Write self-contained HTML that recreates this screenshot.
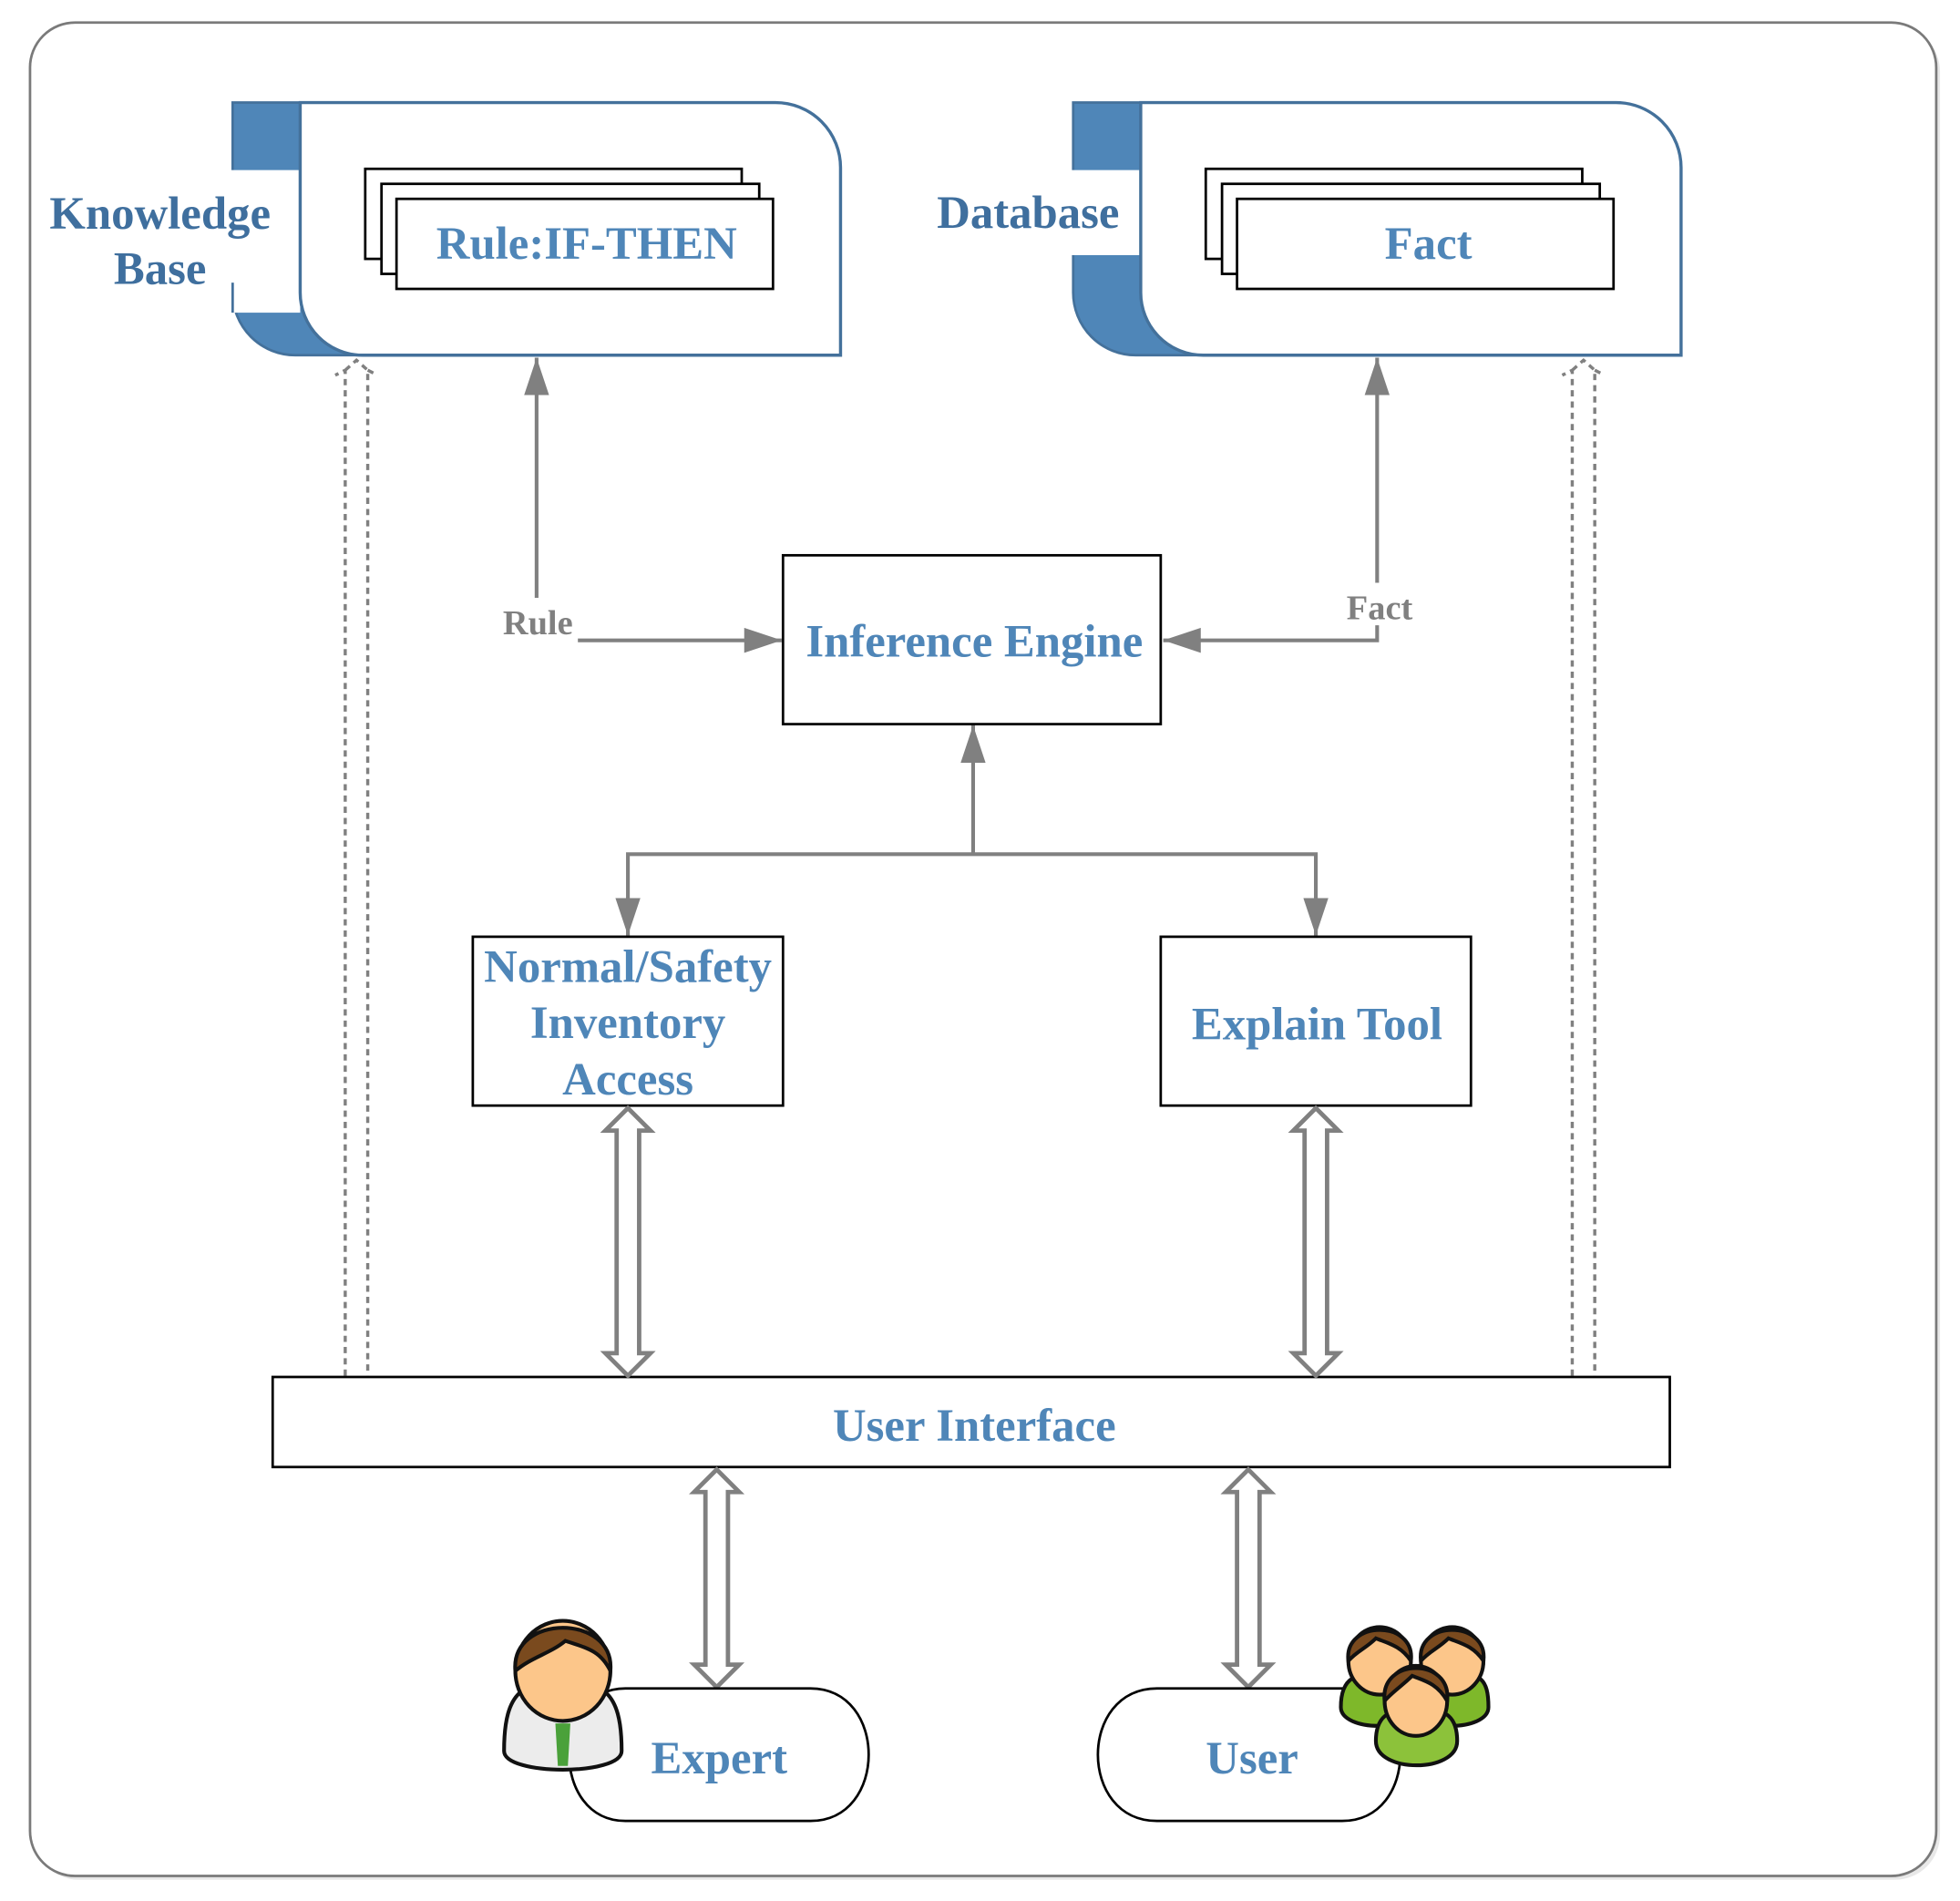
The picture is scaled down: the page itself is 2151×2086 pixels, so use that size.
<!DOCTYPE html>
<html><head><meta charset="utf-8"><style>html,body{margin:0;padding:0;background:#fff}svg{display:block}</style></head><body>
<svg width="2151" height="2086" viewBox="0 0 1567 1520" preserveAspectRatio="none" xmlns="http://www.w3.org/2000/svg" font-family="'Liberation Serif',serif" font-weight="bold">
<defs>
<marker id="ah" viewBox="0 0 10 10" refX="10" refY="5" markerWidth="30" markerHeight="20" preserveAspectRatio="none" orient="auto-start-reverse" markerUnits="userSpaceOnUse"><path d="M0,0 L10,5 L0,10 z" fill="#808080"/></marker>
</defs>
<rect x="27" y="21" width="1524" height="1482" rx="36" fill="#e8e8e8"/>
<rect x="24" y="18" width="1524" height="1482" rx="36" fill="#fff" stroke="#7a7a7a" stroke-width="2"/>

<g>
<path d="M186,82 H300 V284 H236 A50,50 0 0 1 186,234 Z" fill="#4f86b8" stroke="#44719b" stroke-width="2"/>
<rect x="184" y="136" width="56" height="114" fill="#fff"/>
<line x1="186" y1="226" x2="186" y2="250" stroke="#44719b" stroke-width="2"/>
<path d="M240,82 H620 A52,52 0 0 1 672,134 V284 H290 A50,50 0 0 1 240,234 Z" fill="#fff" stroke="#44719b" stroke-width="2.5"/>
<rect x="292" y="135" width="301" height="72" fill="#fff" stroke="#000" stroke-width="2"/>
<rect x="305" y="147" width="302" height="72" fill="#fff" stroke="#000" stroke-width="2"/>
<rect x="317" y="159" width="301" height="72" fill="#fff" stroke="#000" stroke-width="2"/>
<text x="469" y="207" font-size="37" fill="#4f86b8" text-anchor="middle">Rule:IF-THEN</text>
<text x="128" y="183" font-size="37" fill="#3f6f9e" text-anchor="middle">Knowledge</text>
<text x="128" y="227" font-size="37" fill="#3f6f9e" text-anchor="middle">Base</text>
</g>
<g transform="translate(672,0)">
<path d="M186,82 H300 V284 H236 A50,50 0 0 1 186,234 Z" fill="#4f86b8" stroke="#44719b" stroke-width="2"/>
<rect x="184" y="136" width="56" height="68" fill="#fff"/>
<path d="M240,82 H620 A52,52 0 0 1 672,134 V284 H290 A50,50 0 0 1 240,234 Z" fill="#fff" stroke="#44719b" stroke-width="2.5"/>
<rect x="292" y="135" width="301" height="72" fill="#fff" stroke="#000" stroke-width="2"/>
<rect x="305" y="147" width="302" height="72" fill="#fff" stroke="#000" stroke-width="2"/>
<rect x="317" y="159" width="301" height="72" fill="#fff" stroke="#000" stroke-width="2"/>
<text x="470" y="207" font-size="37" fill="#4f86b8" text-anchor="middle">Fact</text>
</g>
<text x="822" y="182" font-size="37" fill="#3f6f9e" text-anchor="middle">Database</text>

<rect x="626" y="444" width="302" height="135" fill="#fff" stroke="#000" stroke-width="2"/>
<text x="779" y="525" font-size="37" fill="#4f86b8" text-anchor="middle">Inference Engine</text>

<g stroke="#808080" stroke-width="3" fill="none">
<line x1="429" y1="478" x2="429" y2="286" marker-end="url(#ah)"/>
<line x1="462" y1="512" x2="625" y2="512" marker-end="url(#ah)"/>
<polyline points="1101,500 1101,512 930,512" marker-end="url(#ah)"/>
<line x1="1101" y1="466" x2="1101" y2="286" marker-end="url(#ah)"/>
<line x1="778" y1="683" x2="778" y2="580" marker-end="url(#ah)"/>
<polyline points="502,748 502,683 1052,683 1052,748" marker-start="url(#ah)" marker-end="url(#ah)"/>
</g>
<text x="430" y="507" font-size="28" fill="#808080" text-anchor="middle">Rule</text>
<text x="1103" y="495" font-size="28" fill="#808080" text-anchor="middle">Fact</text>

<rect x="378" y="749" width="248" height="135" fill="#fff" stroke="#000" stroke-width="2"/>
<text x="502" y="785" font-size="37" fill="#4f86b8" text-anchor="middle">Normal/Safety</text>
<text x="502" y="830" font-size="37" fill="#4f86b8" text-anchor="middle">Inventory</text>
<text x="502" y="875" font-size="37" fill="#4f86b8" text-anchor="middle">Access</text>
<rect x="928" y="749" width="248" height="135" fill="#fff" stroke="#000" stroke-width="2"/>
<text x="1053" y="831" font-size="37" fill="#4f86b8" text-anchor="middle">Explain Tool</text>

<g stroke="#808080" stroke-width="2.5" fill="none" stroke-dasharray="5,4">
<path d="M276,1100 V296 L268,300 M276,296 L285,288 L294,296 V1100 M294,296 L302,300"/>
<path d="M1257,1100 V296 L1249,300 M1257,296 L1266,288 L1275,296 V1100 M1275,296 L1283,300"/>
</g>

<rect x="218" y="1101" width="1117" height="72" fill="#fff" stroke="#000" stroke-width="2"/>
<text x="779" y="1152" font-size="37" fill="#4f86b8" text-anchor="middle">User Interface</text>

<g stroke="#808080" stroke-width="3.5" fill="#fff" stroke-linejoin="miter">
<path d="M502,886 L520,904 H511 V1082 H520 L502,1100 L484,1082 H493 V904 H484 Z"/>
<path d="M1052,886 L1070,904 H1061 V1082 H1070 L1052,1100 L1034,1082 H1043 V904 H1034 Z"/>
<path d="M573,1175 L591,1193 H582 V1331 H591 L573,1349 L555,1331 H564 V1193 H555 Z"/>
<path d="M998,1175 L1016,1193 H1007 V1331 H1016 L998,1349 L980,1331 H989 V1193 H980 Z"/>
</g>

<path d="M500,1350 H648 C710,1350 710,1456 648,1456 H500 C440,1456 440,1350 500,1350 Z" fill="#fff" stroke="#000" stroke-width="2"/>
<text x="575" y="1418" font-size="37" fill="#4f86b8" text-anchor="middle">Expert</text>
<path d="M925,1350 H1073 C1135,1350 1135,1456 1073,1456 H925 C862,1456 862,1350 925,1350 Z" fill="#fff" stroke="#000" stroke-width="2"/>
<text x="1001" y="1418" font-size="37" fill="#4f86b8" text-anchor="middle">User</text>

<g stroke="#111" stroke-width="3">
<path d="M403,1400 C403,1350 420,1345 450,1345 C480,1345 497,1350 497,1400 C497,1420 403,1420 403,1400 Z" fill="#ececec"/>
<path d="M444,1378 H456 L454,1412 H446 Z" fill="#4aa13a" stroke="none"/>
<ellipse cx="450" cy="1336" rx="38" ry="40" fill="#fcc68a"/>
<path d="M412,1336 C408,1290 492,1290 488,1336 C480,1320 470,1318 452,1312 C440,1322 425,1325 412,1336 Z" fill="#7a4a1e"/>
</g>
<g stroke="#111" stroke-width="3">
<path d="M1072,1365 C1072,1340 1085,1338 1105,1338 C1125,1338 1132,1342 1132,1365 C1132,1385 1072,1385 1072,1365 Z" fill="#7eb82a"/>
<ellipse cx="1103" cy="1328" rx="25" ry="27" fill="#fcc68a"/>
<path d="M1078,1328 C1074,1295 1132,1295 1128,1328 C1120,1316 1110,1314 1100,1310 C1092,1318 1085,1320 1078,1328 Z" fill="#7a4a1e"/>
<path d="M1130,1365 C1130,1340 1143,1338 1163,1338 C1183,1338 1190,1342 1190,1365 C1190,1385 1130,1385 1130,1365 Z" fill="#7eb82a"/>
<ellipse cx="1161" cy="1328" rx="25" ry="27" fill="#fcc68a"/>
<path d="M1136,1328 C1132,1295 1190,1295 1186,1328 C1178,1316 1168,1314 1158,1310 C1150,1318 1143,1320 1136,1328 Z" fill="#7a4a1e"/>
<path d="M1100,1392 C1100,1370 1113,1366 1133,1366 C1153,1366 1165,1370 1165,1392 C1165,1418 1100,1418 1100,1392 Z" fill="#8cc23a"/>
<ellipse cx="1132" cy="1360" rx="25" ry="28" fill="#fcc68a"/>
<path d="M1107,1360 C1103,1325 1161,1325 1157,1360 C1149,1346 1139,1344 1129,1340 C1121,1348 1114,1352 1107,1360 Z" fill="#7a4a1e"/>
</g>
</svg>
</body></html>
